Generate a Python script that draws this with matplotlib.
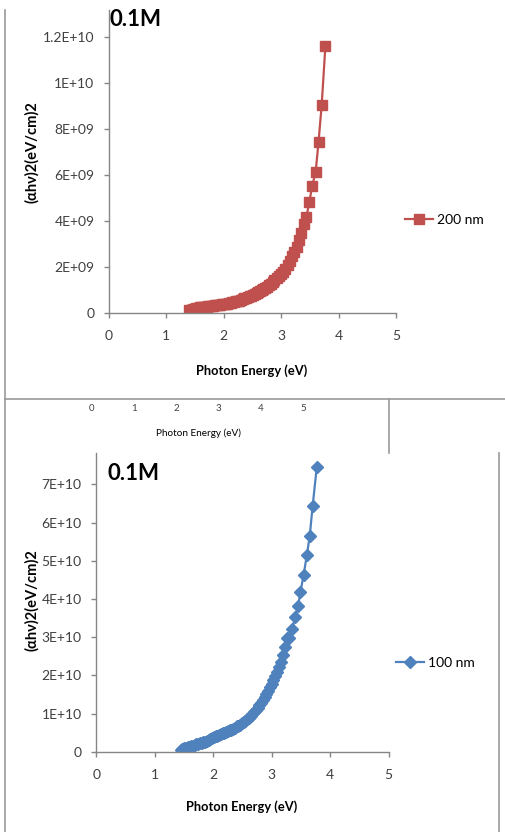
import matplotlib
matplotlib.use("Agg")
import matplotlib.pyplot as plt
from matplotlib.lines import Line2D

plt.rcParams['font.family'] = ['Lato', 'DejaVu Sans']

# ---- data -------------------------------------------------------------
energy_200 = [3.77, 3.705, 3.65, 3.60, 3.54, 3.49, 3.44, 3.40, 3.35, 3.31,
              3.27, 3.23, 3.19, 3.15, 3.11, 3.07, 3.03, 3.00, 2.96, 2.92,
              2.88, 2.85, 2.82, 2.78, 2.75, 2.72, 2.69, 2.66, 2.63, 2.60,
              2.57, 2.54, 2.51, 2.48, 2.45, 2.42, 2.39, 2.36, 2.33, 2.30,
              2.27, 2.24, 2.21, 2.18, 2.15, 2.12, 2.09, 2.06, 2.03, 2.00,
              1.97, 1.94, 1.91, 1.88, 1.85, 1.82, 1.79, 1.76, 1.73, 1.70,
              1.67, 1.64, 1.61, 1.58, 1.55, 1.52, 1.49, 1.46, 1.43, 1.40]
tauc_200 = [11.6e9, 9.02e9, 7.41e9, 6.12e9, 5.52e9, 4.82e9, 4.18e9, 3.85e9, 3.48e9, 3.18e9,
            2.88e9, 2.64e9, 2.46e9, 2.28e9, 2.08e9, 1.93e9, 1.78e9, 1.70e9, 1.60e9, 1.50e9,
            1.42e9, 1.35e9, 1.28e9, 1.21e9, 1.14e9, 1.09e9, 1.04e9, 0.99e9, 0.95e9, 0.92e9,
            0.88e9, 0.84e9, 0.80e9, 0.76e9, 0.73e9, 0.69e9, 0.66e9, 0.63e9, 0.60e9, 0.57e9,
            0.54e9, 0.52e9, 0.50e9, 0.48e9, 0.46e9, 0.45e9, 0.43e9, 0.41e9, 0.40e9, 0.39e9,
            0.37e9, 0.36e9, 0.35e9, 0.34e9, 0.33e9, 0.32e9, 0.31e9, 0.30e9, 0.29e9, 0.28e9,
            0.27e9, 0.26e9, 0.25e9, 0.24e9, 0.22e9, 0.21e9, 0.19e9, 0.17e9, 0.15e9, 0.13e9]

energy_100 = [3.77, 3.70, 3.65, 3.60, 3.545, 3.49, 3.45, 3.40, 3.35, 3.30,
              3.26, 3.225, 3.19, 3.15, 3.12, 3.09, 3.06, 3.03, 3.00, 2.97,
              2.94, 2.91, 2.88, 2.85, 2.82, 2.79, 2.76, 2.73, 2.70, 2.67,
              2.64, 2.61, 2.58, 2.55, 2.52, 2.49, 2.46, 2.43, 2.40, 2.37,
              2.34, 2.31, 2.28, 2.25, 2.22, 2.19, 2.16, 2.13, 2.10, 2.07,
              2.04, 2.01, 1.98, 1.95, 1.92, 1.89, 1.86, 1.83, 1.80, 1.77,
              1.74, 1.71, 1.68, 1.65, 1.62, 1.59, 1.56, 1.53, 1.50, 1.47, 1.45]
tauc_100 = [7.45e10, 6.44e10, 5.65e10, 5.14e10, 4.63e10, 4.17e10, 3.81e10, 3.52e10, 3.22e10, 2.97e10,
            2.98e10, 2.75e10, 2.53e10, 2.35e10, 2.21e10, 2.09e10, 1.98e10, 1.88e10, 1.78e10, 1.69e10,
            1.60e10, 1.52e10, 1.43e10, 1.35e10, 1.28e10, 1.21e10, 1.15e10, 1.09e10, 1.03e10, 0.98e10,
            0.93e10, 0.89e10, 0.85e10, 0.81e10, 0.77e10, 0.74e10, 0.71e10, 0.68e10, 0.66e10, 0.63e10,
            0.60e10, 0.58e10, 0.56e10, 0.54e10, 0.52e10, 0.50e10, 0.48e10, 0.46e10, 0.44e10, 0.42e10,
            0.40e10, 0.38e10, 0.36e10, 0.33e10, 0.31e10, 0.28e10, 0.26e10, 0.25e10, 0.23e10, 0.22e10,
            0.20e10, 0.19e10, 0.17e10, 0.16e10, 0.14e10, 0.13e10, 0.11e10, 0.10e10, 0.09e10, 0.07e10, 0.05e10]

x_ticks = [0, 1, 2, 3, 4, 5]
y_ticks_200 = [0, 2e9, 4e9, 6e9, 8e9, 10e9, 12e9]
y_labels_200 = ['0', '2E+09', '4E+09', '6E+09', '8E+09', '1E+10', '1.2E+10']
y_ticks_100 = [0, 1e10, 2e10, 3e10, 4e10, 5e10, 6e10, 7e10]
y_labels_100 = ['0', '1E+10', '2E+10', '3E+10', '4E+10', '5E+10', '6E+10', '7E+10']

RED = '#C0504D'
BLUE = '#4F81BD'
GRID = '#868686'
TICK_TXT = '#404040'
W, H = 506, 832

fig = plt.figure(figsize=(W / 100, H / 100), dpi=100)
fig.patch.set_facecolor('white')


def px_axes(left, right, top, bottom):
    return fig.add_axes([left / W, 1 - bottom / H, (right - left) / W, (bottom - top) / H])


def style(ax, yticks, ylabels, ytop):
    ax.set_xlim(0, 5)
    ax.set_ylim(0, ytop)
    for s in ('top', 'right'):
        ax.spines[s].set_visible(False)
    for s in ('left', 'bottom'):
        ax.spines[s].set_color(GRID)
        ax.spines[s].set_linewidth(1.0)
    ax.set_xticks(x_ticks)
    ax.set_xticklabels([str(t) for t in x_ticks])
    ax.set_yticks(yticks)
    ax.set_yticklabels(ylabels)
    ax.tick_params(axis='both', direction='out', length=3.5, width=1.0,
                   color=GRID, labelcolor=TICK_TXT, labelsize=10)
    ax.tick_params(axis='x', pad=9)
    ax.tick_params(axis='y', pad=7)


# ---- upper chart (200 nm) ---------------------------------------------
ax1 = px_axes(109, 396, 10, 313)
ax1.plot(energy_200, tauc_200, color=RED, lw=1.6, marker='s', ms=7.2,
         mfc=RED, mec=RED, label='200 nm')
style(ax1, y_ticks_200, y_labels_200, 13.16e9)
ax1.legend(loc='center left', bbox_to_anchor=(405 / W, 1 - 220 / H),
           bbox_transform=fig.transFigure, frameon=False, fontsize=10,
           handlelength=2.0, handletextpad=0.3, borderpad=0, borderaxespad=0)
fig.text(110 / W, 1 - 20 / H, '0.1M', fontsize=16, fontweight='bold',
         ha='left', va='center', color='black')
fig.text(32 / W, 1 - 152 / H, '(αhν)2(eV/cm)2', rotation=90, fontsize=10.5,
         fontweight='bold', ha='center', va='center', color='black')
fig.text(252 / W, 1 - 371 / H, 'Photon Energy (eV)', fontsize=9.3,
         fontweight='bold', ha='center', va='center', color='black')

# ---- strip of a partly hidden chart between the two panels ------------
ax_mid = px_axes(92, 303, 396, 401)
ax_mid.set_xlim(0, 5)
ax_mid.set_yticks([])
for s in ax_mid.spines.values():
    s.set_visible(False)
ax_mid.patch.set_alpha(0)
ax_mid.set_xticks(x_ticks)
ax_mid.set_xticklabels([str(t) for t in x_ticks])
ax_mid.tick_params(axis='x', length=0, pad=2, labelsize=7, labelcolor=TICK_TXT)
fig.text(198 / W, 1 - 433 / H, 'Photon Energy (eV)', fontsize=7.2,
         ha='center', va='center', color='black')

# ---- lower chart (100 nm) ---------------------------------------------
ax2 = px_axes(96.3, 388.7, 453, 751.7)
ax2.plot(energy_100, tauc_100, color=BLUE, lw=1.6, marker='D', ms=6.3,
         mfc=BLUE, mec=BLUE, label='100 nm')
style(ax2, y_ticks_100, y_labels_100, 7.82e10)
ax2.legend(loc='center left', bbox_to_anchor=(396 / W, 1 - 663 / H),
           bbox_transform=fig.transFigure, frameon=False, fontsize=10,
           handlelength=2.0, handletextpad=0.3, borderpad=0, borderaxespad=0)
fig.text(108 / W, 1 - 474 / H, '0.1M', fontsize=16, fontweight='bold',
         ha='left', va='center', color='black')
fig.text(32 / W, 1 - 600 / H, '(αhν)2(eV/cm)2', rotation=90, fontsize=10.5,
         fontweight='bold', ha='center', va='center', color='black')
fig.text(242 / W, 1 - 807 / H, 'Photon Energy (eV)', fontsize=9.3,
         fontweight='bold', ha='center', va='center', color='black')

# ---- chart-area borders ------------------------------------------------
frame = [((5, 5), (10, 832)),
         ((5, 506), (399.3, 399.3)),
         ((389.3, 389.3), (399.3, 452.7)),
         ((499.3, 499.3), (453, 832))]
for xs, ys in frame:
    fig.add_artist(Line2D([x / W for x in xs], [1 - y / H for y in ys],
                          transform=fig.transFigure, color='#9a9a9a', lw=1.2))

fig.savefig('out.png', dpi=100)
